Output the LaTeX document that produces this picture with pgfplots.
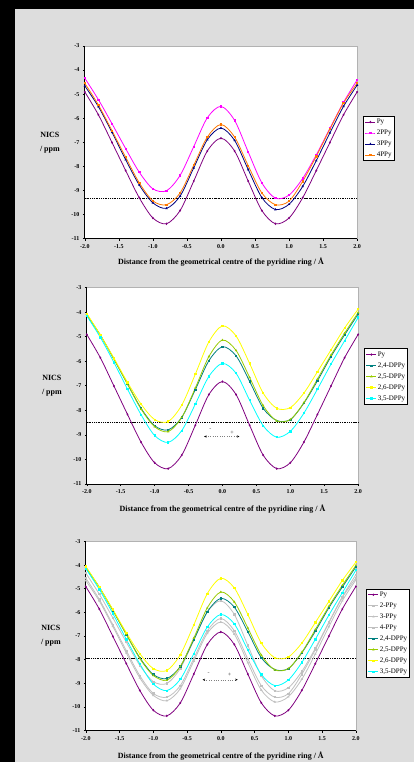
\documentclass[border=0pt]{standalone}
\usepackage{fontspec}
\setmainfont{Liberation Serif}
\usepackage{pgfplots}
\pgfplotsset{compat=1.18}
\usepackage{pgfplotstable}
\usetikzlibrary{arrows.meta}

\definecolor{bggray}{RGB}{221,221,221}
\definecolor{cPy}{RGB}{128,0,128}
\definecolor{c2P}{RGB}{255,0,255}
\definecolor{c3P}{RGB}{0,0,128}
\definecolor{c4P}{RGB}{255,120,0}
\definecolor{c24}{RGB}{0,128,128}
\definecolor{c25}{RGB}{153,204,0}
\definecolor{c26}{RGB}{255,255,0}
\definecolor{c35}{RGB}{0,255,255}
\definecolor{cGr}{RGB}{192,192,192}

\newcommand\ticks{\bfseries\fontsize{6}{7}\selectfont}
\newcommand\lab{\bfseries\fontsize{8}{9}\selectfont}
\newcommand\leg{\fontsize{7}{8}\selectfont}

% NICS scans, x in Angstrom
\pgfplotstableread{
x     Py     P2     P3     P4     D24    D25    D26    D35
-2.0  -4.91  -4.34  -4.66  -4.55  -4.13  -4.08  -4.06  -4.15
-1.8  -5.86  -5.23  -5.52  -5.45  -4.94  -4.94  -4.94  -5.03
-1.6  -7.01  -6.23  -6.59  -6.52  -5.92  -5.90  -5.88  -6.05
-1.4  -8.17  -7.26  -7.72  -7.62  -6.93  -6.93  -6.86  -7.14
-1.2  -9.30  -8.24  -8.77  -8.68  -7.92  -7.95  -7.75  -8.18
-1.0  -10.14 -8.93  -9.51  -9.43  -8.63  -8.67  -8.38  -9.03
-0.8  -10.38 -9.01  -9.74  -9.59  -8.80  -8.87  -8.46  -9.31
-0.6  -9.83  -8.37  -9.23  -9.10  -8.29  -8.29  -7.79  -8.83
-0.4  -8.61  -7.18  -8.06  -7.95  -7.16  -7.09  -6.53  -7.75
-0.2  -7.36  -5.98  -6.89  -6.78  -5.98  -5.81  -5.21  -6.62
 0.0  -6.83  -5.51  -6.41  -6.26  -5.41  -5.14  -4.56  -6.09
 0.2  -7.36  -6.09  -6.92  -6.78  -5.78  -5.56  -4.97  -6.49
 0.4  -8.61  -7.40  -8.13  -7.97  -6.82  -6.66  -6.09  -7.59
 0.6  -9.83  -8.68  -9.29  -9.10  -7.92  -7.81  -7.30  -8.63
 0.8  -10.38 -9.32  -9.79  -9.59  -8.42  -8.43  -7.92  -9.10
 1.0  -10.14 -9.19  -9.57  -9.44  -8.38  -8.38  -7.89  -8.86
 1.2  -9.30  -8.50  -8.83  -8.62  -7.71  -7.69  -7.30  -8.12
 1.4  -8.17  -7.52  -7.76  -7.58  -6.80  -6.73  -6.43  -7.14
 1.6  -7.01  -6.42  -6.61  -6.45  -5.81  -5.75  -5.54  -6.12
 1.8  -5.86  -5.34  -5.51  -5.37  -4.93  -4.86  -4.65  -5.17
 2.0  -4.91  -4.41  -4.63  -4.55  -4.08  -4.02  -3.88  -4.22
}\nics

\tikzset{
  pm/.style={draw=gray, dotted, line width=0.35pt,
    {Stealth[length=2.5pt,width=2.2pt,black]}-{Stealth[length=2.5pt,width=2.2pt,black]}},
  sign/.style={font=\bfseries\fontsize{6}{6}\selectfont, text=gray!80!black, inner sep=0pt},
}

\pgfplotsset{
  nics/.style={
    scale only axis,
    xmin=-2, xmax=2, ymin=-11, ymax=-3,
    xtick={-2,-1.5,...,2}, ytick={-11,-10,...,-3},
    axis lines*=left,
    axis line style={black, line width=0.6pt},
    tick align=outside, major tick length=2pt,
    tick style={black, line width=0.5pt},
    axis background/.style={fill=white, draw=gray!60, line width=0.6pt},
    tick label style={font=\ticks},
    /pgf/number format/assume math mode=true,
    xticklabel style={/pgf/number format/.cd, fixed, fixed zerofill, precision=1},
    yticklabel style={/pgf/number format/.cd, fixed, precision=0},
    xlabel={Distance from the geometrical centre of the pyridine ring / Å},
    ylabel={NICS\\[5pt]/ ppm},
    label style={font=\lab},
    ylabel style={rotate=-90, align=center, at={(axis description cs:0,0.5)},
      anchor=center, xshift=-35pt},
    clip=false,
    legend cell align=left,
    legend style={font=\leg, draw=black, line width=0.8pt, fill=white,
      inner sep=1.5pt, row sep=2.5pt, anchor=north west,
      nodes={inner sep=1pt, text height=5pt, text depth=1.5pt}},
    legend image code/.code={%
      \draw[mark repeat=2, mark phase=2, line width=0.8pt]
        plot coordinates {(0pt,0pt) (5pt,0pt) (10pt,0pt)};},
    every axis plot/.append style={smooth, line width=0.8pt, mark size=0.65pt},
  },
  ref/.style={black, densely dotted, line width=0.9pt, mark=none, forget plot},
}

\begin{document}
\begin{tikzpicture}
  \fill[black] (0pt,0pt) rectangle (415pt,764pt);
  \fill[bggray] (15pt,0pt) rectangle (415pt,755pt);

  % panel 1: mono-substituted
  \begin{axis}[nics, at={(85pt,524.7pt)}, anchor=south west,
      width=273pt, height=193.3pt,
      xlabel style={at={(axis description cs:0.5,0)}, anchor=center, yshift=-23pt},
      legend style={at={(1.022,0.637)}}]
    \addplot[ref] coordinates {(-2,-9.32) (2,-9.32)};
    \addplot[cPy, mark=diamond*] table[x=x, y=Py] {\nics};
    \addplot[c2P, mark=square*] table[x=x, y=P2] {\nics};
    \addplot[c3P, mark=triangle*] table[x=x, y=P3] {\nics};
    \addplot[c4P, mark=square*] table[x=x, y=P4] {\nics};
    \legend{Py, 2PPy, 3PPy, 4PPy}
  \end{axis}

  % panel 2: di-substituted
  \begin{axis}[nics, at={(87pt,279pt)}, anchor=south west,
      width=272pt, height=196.7pt,
      xlabel style={at={(axis description cs:0.5,0)}, anchor=center, yshift=-25pt},
      legend style={at={(1.022,0.69)}}]
    \addplot[ref] coordinates {(-2,-8.49) (2,-8.49)};
    \addplot[cPy, mark=diamond*] table[x=x, y=Py] {\nics};
    \addplot[c24, mark=square*] table[x=x, y=D24] {\nics};
    \addplot[c25, mark=triangle*] table[x=x, y=D25] {\nics};
    \addplot[c26, mark=square*] table[x=x, y=D26] {\nics};
    \addplot[c35, mark=square*] table[x=x, y=D35] {\nics};
    \legend{Py, {2,4-DPPy}, {2,5-DPPy}, {2,6-DPPy}, {3,5-DPPy}}
    \draw[pm] (axis cs:-0.27,-9.07) -- (axis cs:0.25,-9.07);
    \node[sign] at (axis cs:-0.18,-8.80) {-};
    \node[sign] at (axis cs:0.14,-8.91) {+};
  \end{axis}

  % panel 3: all
  \begin{axis}[nics, at={(86pt,31.7pt)}, anchor=south west,
      width=270.7pt, height=189.6pt,
      xlabel style={at={(axis description cs:0.5,0)}, anchor=center, yshift=-26pt},
      legend style={at={(1.038,0.75)}}]
    \addplot[ref] coordinates {(-2,-7.95) (2,-7.95)};
    \addplot[cPy, mark=diamond*] table[x=x, y=Py] {\nics};
    \addplot[cGr, mark=square*] table[x=x, y=P2] {\nics};
    \addplot[cGr, mark=triangle*] table[x=x, y=P3] {\nics};
    \addplot[cGr, mark=square*] table[x=x, y=P4] {\nics};
    \addplot[c24, mark=square*] table[x=x, y=D24] {\nics};
    \addplot[c25, mark=triangle*] table[x=x, y=D25] {\nics};
    \addplot[c26, mark=square*] table[x=x, y=D26] {\nics};
    \addplot[c35, mark=square*] table[x=x, y=D35] {\nics};
    \legend{Py, 2-PPy, 3-PPy, 4-PPy, {2,4-DPPy}, {2,5-DPPy}, {2,6-DPPy}, {3,5-DPPy}}
    \draw[pm] (axis cs:-0.27,-8.85) -- (axis cs:0.25,-8.85);
    \node[sign] at (axis cs:-0.18,-8.58) {-};
    \node[sign] at (axis cs:0.13,-8.65) {+};
  \end{axis}
\end{tikzpicture}
\end{document}
